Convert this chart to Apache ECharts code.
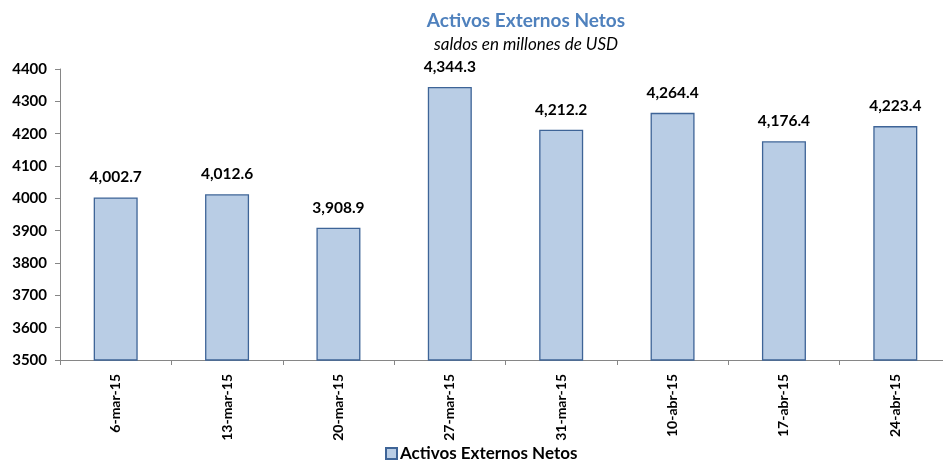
<!DOCTYPE html>
<html><head><meta charset="utf-8">
<script src="https://cdn.jsdelivr.net/npm/echarts@6/dist/echarts.min.js"></script>
<style>html,body{margin:0;padding:0;background:#fff;overflow:hidden}#c{width:951px;height:462px}</style>
</head><body><div id="c"></div>
<script>
const categories = ["6-mar-15","13-mar-15","20-mar-15","27-mar-15","31-mar-15","10-abr-15","17-abr-15","24-abr-15"];
const values = [4002.7, 4012.6, 3908.9, 4344.3, 4212.2, 4264.4, 4176.4, 4223.4];
const seriesName = "Activos Externos Netos";
const titleText = "Activos Externos Netos";
const subtitleText = "saldos en millones de USD";

const F = "Lato, 'Open Sans', sans-serif";
const chart = echarts.init(document.getElementById('c'));
chart.setOption({
  animation: false,
  title: [{
    text: titleText, left: 521, textAlign: 'center', top: 6,
    textStyle: {fontFamily: F, fontSize: 19, fontWeight: 'bold', color: '#4F81BD'}
  }, {
    text: subtitleText, left: 521, textAlign: 'center', top: 31,
    textStyle: {fontFamily: F, fontSize: 17, fontWeight: 'normal', fontStyle: 'italic', color: '#000'}
  }],
  legend: {
    top: 445, left: 385, padding: 0, itemWidth: 11, itemHeight: 11, icon: 'rect', itemGap: 4,
    textStyle: {fontFamily: F, fontSize: 17, fontWeight: 'bold', color: '#000', padding: [0, 0, 0, -2]}
  },
  grid: {left: 60, right: 0, top: 69, bottom: 102},
  xAxis: {
    type: 'category', data: categories,
    axisLine: {lineStyle: {color: '#868686'}},
    axisTick: {show: true, alignWithLabel: false, length: 5, lineStyle: {color: '#868686'}},
    axisLabel: {rotate: 90, fontFamily: F, fontSize: 14, fontWeight: 'bold', color: '#000', margin: 14}
  },
  yAxis: {
    type: 'value', min: 3500, max: 4400, interval: 100,
    splitLine: {show: false},
    axisLine: {show: true, lineStyle: {color: '#868686'}},
    axisTick: {show: true, length: 5, lineStyle: {color: '#868686'}},
    axisLabel: {fontFamily: F, fontSize: 15, fontWeight: 'bold', color: '#000', margin: 13,
      formatter: v => String(v)}
  },
  series: [{
    name: seriesName, type: 'bar', data: values, barWidth: 44,
    itemStyle: {color: '#B9CDE5', borderColor: '#3E6497', borderWidth: 1.3},
    label: {
      show: true, position: 'top', distance: 12,
      fontFamily: F, fontSize: 15.5, fontWeight: 'bold', color: '#000',
      formatter: p => p.value.toLocaleString('en-US', {minimumFractionDigits: 1, maximumFractionDigits: 1})
    }
  }]
});
</script></body></html>
